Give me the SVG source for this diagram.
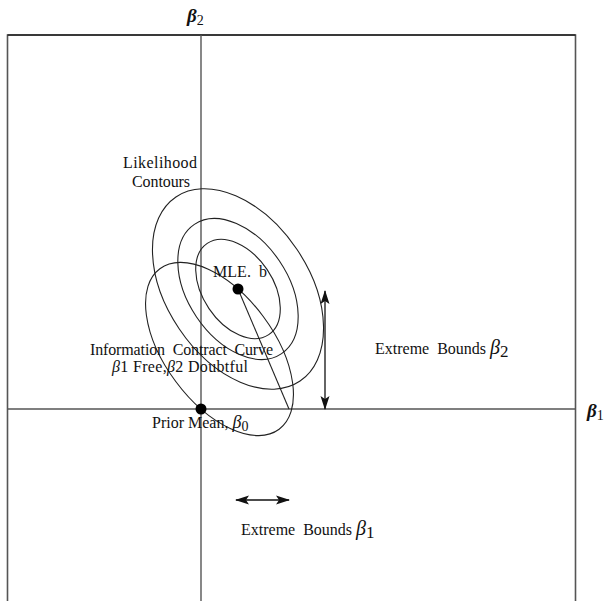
<svg xmlns="http://www.w3.org/2000/svg" width="606" height="601" viewBox="0 0 606 601">
<defs>
<style>
.frame{stroke:#555;stroke-width:1.6;fill:none}
.axis{stroke:#555;stroke-width:1.4;fill:none}
.curve{stroke:#222;stroke-width:1.1;fill:none}
.lbl{font-family:"Liberation Serif","Times New Roman",serif;font-size:16px;fill:#111;white-space:pre}
.beta{font-family:"Liberation Serif","Times New Roman",serif;font-style:italic;fill:#111}
.axlbl{font-family:"Liberation Serif","Times New Roman",serif;font-style:italic;font-weight:bold;font-size:19px;fill:#111}
.arr{stroke:#111;stroke-width:1.3;fill:none}
</style>
<marker id="ah" viewBox="0 0 14 10" refX="13" refY="5" markerWidth="14" markerHeight="10" markerUnits="userSpaceOnUse" orient="auto-start-reverse">
<path d="M0,0.5 L14,5 L0,9.5 L3,5 Z" fill="#111"/>
</marker>
</defs>
<rect width="606" height="601" fill="#fff"/>
<g id="frame">
<path class="frame" d="M7.5,601 V35 H575.5 V601"/>
<line x1="7.5" y1="35" x2="575.5" y2="35" stroke="#222" stroke-width="1.4"/>
</g>
<g id="axes">
<line class="axis" x1="201" y1="35" x2="201" y2="601"/>
<line class="axis" x1="7.5" y1="409" x2="575.5" y2="409"/>
<text class="axlbl" x="187" y="22">β<tspan font-size="14" dy="3" font-style="normal" font-weight="normal">2</tspan></text>
<text class="axlbl" x="587" y="417">β<tspan font-size="14" dy="3" font-style="normal" font-weight="normal">1</tspan></text>
</g>
<g id="likelihood-contours">
<ellipse class="curve" cx="238" cy="289" rx="111" ry="71" transform="rotate(56 238 289)"/>
<ellipse class="curve" cx="238" cy="289" rx="78" ry="50" transform="rotate(56 238 289)"/>
<ellipse class="curve" cx="238" cy="289" rx="55" ry="35" transform="rotate(56 238 289)"/>
<text class="lbl" x="123" y="168" textLength="74" lengthAdjust="spacing">Likelihood</text>
<text class="lbl" x="132" y="187" textLength="58" lengthAdjust="spacing">Contours</text>
</g>
<g id="information-contract-curve">
<ellipse class="curve" cx="219.5" cy="349" rx="100" ry="54.5" transform="rotate(53.4 219.5 349)"/>
<text class="lbl" x="90" y="355" textLength="183" lengthAdjust="spacing">Information  Contract  Curve</text>
<text class="lbl" x="112" y="372" textLength="136" lengthAdjust="spacing"><tspan class="beta">β</tspan>1 Free,<tspan class="beta">β</tspan>2 Doubtful</text>
</g>
<g id="connectors">
<line class="curve" x1="238" y1="289" x2="289" y2="409"/>
<line class="arr" x1="325" y1="291" x2="325" y2="409" marker-start="url(#ah)" marker-end="url(#ah)"/>
<line class="arr" x1="236" y1="500" x2="289" y2="500" marker-start="url(#ah)" marker-end="url(#ah)"/>
</g>
<g id="mle">
<circle cx="238" cy="289" r="5.5" fill="#000"/>
<text class="lbl" x="213" y="277" textLength="54" lengthAdjust="spacing">MLE.  b</text>
</g>
<g id="prior-mean">
<circle cx="201" cy="409" r="5.5" fill="#000"/>
<text class="lbl" x="152" y="428">Prior Mean, <tspan class="beta" font-size="18">β</tspan><tspan font-size="14" dy="3">0</tspan></text>
</g>
<g id="extreme-bounds-b2">
<text class="lbl" x="375" y="354">Extreme  Bounds <tspan class="beta" font-size="20">β</tspan><tspan font-size="17" dy="3">2</tspan></text>
</g>
<g id="extreme-bounds-b1">
<text class="lbl" x="241" y="535">Extreme  Bounds <tspan class="beta" font-size="20">β</tspan><tspan font-size="17" dy="3">1</tspan></text>
</g>
</svg>
